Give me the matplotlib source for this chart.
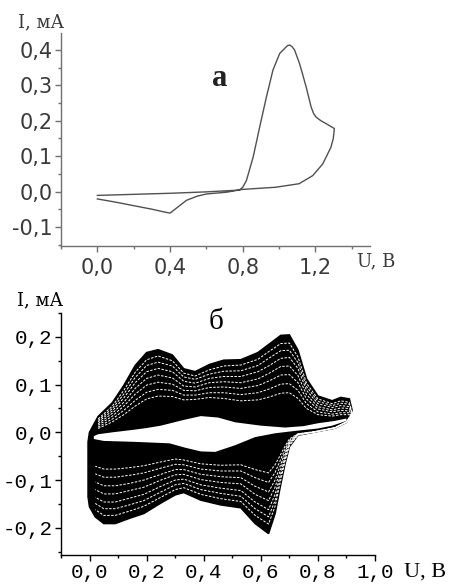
import matplotlib.pyplot as plt
from matplotlib.ticker import MultipleLocator

# panel a: single CV cycle
u_a = [0.0, 0.2, 0.4, 0.6, 0.78, 0.80, 0.82, 0.857, 0.893, 0.93, 0.966, 1.003, 1.03, 1.045, 1.058,
       1.07, 1.085, 1.112, 1.13, 1.149, 1.176, 1.19, 1.204, 1.23, 1.258, 1.304,
       1.298, 1.285, 1.24, 1.185, 1.11, 0.98, 0.8, 0.71, 0.6, 0.55, 0.49, 0.44, 0.4, 0.37, 0.3,
       0.2, 0.1, 0.0]
i_a = [-0.011, -0.008, -0.005, -0.001, 0.004, 0.012, 0.031, 0.097, 0.182, 0.267, 0.343, 0.39, 0.404,
       0.412, 0.414, 0.41, 0.4, 0.362, 0.33, 0.295, 0.239, 0.22, 0.21, 0.2, 0.192, 0.178,
       0.15, 0.125, 0.078, 0.045, 0.022, 0.012, 0.006, -0.002, -0.007, -0.013, -0.025, -0.045,
       -0.061, -0.058, -0.05, -0.04, -0.03, -0.021]

# panel б: multi-cycle CV, potentials of the anodic and cathodic branches
u_up = [-0.005, 0.0, 0.03, 0.08, 0.12, 0.16, 0.2, 0.24, 0.29, 0.33, 0.37, 0.42, 0.47, 0.53,
        0.59, 0.63, 0.67, 0.70, 0.73, 0.76, 0.80, 0.85, 0.88, 0.91]
u_down = [0.92, 0.90, 0.86, 0.79, 0.73, 0.70, 0.685, 0.668, 0.65, 0.627, 0.58, 0.53, 0.46,
          0.39, 0.33, 0.30, 0.25, 0.19, 0.14, 0.09, 0.05, 0.02, 0.0, -0.005, -0.005]

# outermost cycle
i_outer_up = [-0.02, 0.0, 0.033, 0.062, 0.098, 0.14, 0.167, 0.173, 0.162, 0.133, 0.127, 0.142,
              0.151, 0.152, 0.167, 0.185, 0.203, 0.204, 0.172, 0.112, 0.076, 0.066, 0.073, 0.07]
i_outer_down = [0.045, 0.021, 0.009, 0.001, -0.006, -0.03, -0.065, -0.114, -0.17, -0.212, -0.191,
                -0.158, -0.152, -0.142, -0.126, -0.131, -0.148, -0.17, -0.18, -0.191, -0.191,
                -0.177, -0.156, -0.135, -0.02]

# intermediate cycles (seen as white streaks inside the black band)
i_mid_up = [
    [-0.018, -0.002, 0.028, 0.055, 0.088, 0.126, 0.152, 0.16, 0.15, 0.124, 0.118, 0.131,
     0.139, 0.141, 0.153, 0.17, 0.186, 0.187, 0.158, 0.103, 0.07, 0.06, 0.066, 0.063],
    [-0.017, -0.002, 0.025, 0.05, 0.08, 0.115, 0.14, 0.147, 0.139, 0.116, 0.111, 0.122,
     0.128, 0.129, 0.14, 0.156, 0.171, 0.172, 0.146, 0.096, 0.065, 0.056, 0.061, 0.059],
    [-0.016, -0.003, 0.022, 0.045, 0.072, 0.104, 0.127, 0.134, 0.127, 0.107, 0.103, 0.113,
     0.117, 0.117, 0.127, 0.14, 0.155, 0.157, 0.134, 0.088, 0.06, 0.052, 0.056, 0.054],
    [-0.015, -0.003, 0.018, 0.04, 0.063, 0.092, 0.113, 0.12, 0.114, 0.097, 0.095, 0.104,
     0.106, 0.104, 0.112, 0.124, 0.138, 0.139, 0.119, 0.079, 0.054, 0.047, 0.051, 0.05],
    [-0.015, -0.004, 0.015, 0.034, 0.055, 0.08, 0.099, 0.105, 0.101, 0.088, 0.087, 0.094,
     0.095, 0.092, 0.098, 0.108, 0.12, 0.121, 0.104, 0.07, 0.049, 0.043, 0.046, 0.045],
    [-0.014, -0.005, 0.011, 0.028, 0.046, 0.067, 0.084, 0.09, 0.088, 0.078, 0.078, 0.083,
     0.083, 0.079, 0.083, 0.091, 0.101, 0.102, 0.088, 0.06, 0.043, 0.038, 0.041, 0.041],
    [-0.014, -0.005, 0.008, 0.022, 0.037, 0.055, 0.07, 0.076, 0.075, 0.068, 0.069, 0.073,
     0.071, 0.066, 0.068, 0.074, 0.082, 0.083, 0.071, 0.05, 0.037, 0.034, 0.037, 0.037],
]
i_mid_down = [
    [0.042, 0.02, 0.009, 0.001, -0.006, -0.028, -0.06, -0.105, -0.155, -0.192, -0.174, -0.145,
     -0.139, -0.13, -0.116, -0.12, -0.136, -0.155, -0.165, -0.174, -0.174, -0.162, -0.143, -0.124, -0.02],
    [0.041, 0.021, 0.009, 0.001, -0.005, -0.026, -0.056, -0.098, -0.143, -0.177, -0.16, -0.134,
     -0.128, -0.12, -0.107, -0.11, -0.125, -0.143, -0.152, -0.16, -0.16, -0.149, -0.132, -0.114, -0.02],
    [0.04, 0.022, 0.009, 0.001, -0.005, -0.024, -0.052, -0.09, -0.13, -0.162, -0.146, -0.122,
     -0.117, -0.11, -0.098, -0.1, -0.113, -0.13, -0.138, -0.146, -0.146, -0.136, -0.12, -0.104, -0.019],
    [0.038, 0.022, 0.009, 0.001, -0.004, -0.022, -0.047, -0.08, -0.115, -0.143, -0.13, -0.108,
     -0.105, -0.099, -0.088, -0.089, -0.1, -0.115, -0.122, -0.129, -0.129, -0.12, -0.107, -0.092, -0.018],
    [0.037, 0.022, 0.01, 0.001, -0.004, -0.02, -0.041, -0.07, -0.1, -0.125, -0.113, -0.095,
     -0.093, -0.088, -0.078, -0.078, -0.088, -0.1, -0.107, -0.112, -0.112, -0.104, -0.093, -0.08, -0.018],
    [0.035, 0.022, 0.01, 0.001, -0.003, -0.017, -0.035, -0.059, -0.084, -0.105, -0.095, -0.081,
     -0.081, -0.077, -0.068, -0.067, -0.075, -0.085, -0.09, -0.094, -0.094, -0.087, -0.078, -0.067, -0.017],
    [0.034, 0.022, 0.01, 0.002, -0.003, -0.014, -0.029, -0.048, -0.068, -0.085, -0.078, -0.068,
     -0.069, -0.066, -0.058, -0.056, -0.062, -0.07, -0.074, -0.077, -0.077, -0.071, -0.063, -0.055, -0.017],
]

# innermost cycle (the white gap)
u_in_up = [0.015, 0.03, 0.08, 0.15, 0.2, 0.25, 0.29, 0.33, 0.39, 0.45, 0.51, 0.6, 0.685, 0.75, 0.8, 0.86, 0.9]
i_in_up = [-0.008, -0.004, 0.0, 0.005, 0.009, 0.014, 0.02, 0.026, 0.034, 0.031, 0.021, 0.014, 0.01,
           0.013, 0.019, 0.024, 0.029]
u_in_down = [0.9, 0.85, 0.8, 0.72, 0.65, 0.58, 0.51, 0.44, 0.39, 0.334, 0.28, 0.16, 0.05, 0.015]
i_in_down = [0.024, 0.014, 0.008, 0.003, -0.002, -0.01, -0.027, -0.041, -0.04, -0.032, -0.023, -0.02,
             -0.018, -0.014]

W, H = 451, 587
fig = plt.figure(figsize=(W / 100, H / 100), dpi=100)


def px(x, y):
    return x / W, 1 - y / H


gray = '#3a3a3a'

# ---- panel a ----
ax1 = fig.add_axes([61 / W, 1 - 246 / H, (370 - 61) / W, (246 - 33) / H])
ax1.plot(u_a, i_a, color='#505050', lw=1.0)
ax1.set_xlim(-0.2, 1.5)
ax1.set_ylim(-0.154, 0.448)
for s in ['top', 'right']:
    ax1.spines[s].set_visible(False)
for s in ['left', 'bottom']:
    ax1.spines[s].set_color('#707070')
    ax1.spines[s].set_linewidth(1.0)
ax1.xaxis.set_minor_locator(MultipleLocator(0.2))
ax1.yaxis.set_minor_locator(MultipleLocator(0.05))
ax1.set_xticks([0.0, 0.4, 0.8, 1.2])
ax1.set_xticklabels(['0,0', '0,4', '0,8', '1,2'])
ax1.set_yticks([-0.1, 0.0, 0.1, 0.2, 0.3, 0.4])
ax1.set_yticklabels(['-0,1', '0,0', '0,1', '0,2', '0,3', '0,4'])
ax1.tick_params(which='both', colors='#707070', labelcolor=gray, labelsize=15, width=1)
ax1.tick_params(which='major', length=4)
ax1.tick_params(which='minor', length=2.5)
ax1.tick_params(axis='x', pad=5)
ax1.tick_params(axis='y', pad=2)
for t in ax1.get_xticklabels() + ax1.get_yticklabels():
    t.set_family('DejaVu Sans')

fig.text(*px(41, 22), 'I, мА', family='DejaVu Serif', fontsize=13, color=gray, ha='center', va='center')
fig.text(*px(376, 261), 'U, B', family='DejaVu Serif', fontsize=13, color=gray, ha='center', va='center')
fig.text(*px(220, 79), 'a', family='Liberation Serif', fontsize=22, fontweight='bold', color='#222222',
         ha='center', va='center')

# ---- panel б ----
ax2 = fig.add_axes([61 / W, 1 - 555 / H, (375 - 61) / W, (555 - 313) / H])
ax2.fill(u_up + u_down, i_outer_up + i_outer_down, color='black', lw=1.2, ec='black')
for iu, idn in zip(i_mid_up, i_mid_down):
    ax2.plot(u_up[2:] + u_down[:-3], iu[2:] + idn[:-3], color='white', lw=0.7, ls=(0, (2.5, 1.5)))
ax2.fill(u_in_up + u_in_down, i_in_up + i_in_down, color='white', lw=0)
ax2.set_xlim(-0.1, 1.0)
ax2.set_ylim(-0.257, 0.25)
for s in ['top', 'right']:
    ax2.spines[s].set_visible(False)
for s in ['left', 'bottom']:
    ax2.spines[s].set_linewidth(1.0)
ax2.xaxis.set_minor_locator(MultipleLocator(0.1))
ax2.yaxis.set_minor_locator(MultipleLocator(0.05))
ax2.set_xticks([0.0, 0.2, 0.4, 0.6, 0.8, 1.0])
ax2.set_xticklabels(['0,0', '0,2', '0,4', '0,6', '0,8', '1,0'])
ax2.set_yticks([-0.2, -0.1, 0.0, 0.1, 0.2])
ax2.set_yticklabels(['-0,2', '-0,1', '0,0', '0,1', '0,2'])
ax2.tick_params(which='both', labelsize=15, width=1)
ax2.tick_params(which='major', length=4)
ax2.tick_params(which='minor', length=2.5)
ax2.tick_params(axis='x', pad=1.5)
ax2.tick_params(axis='y', pad=2)
for t in ax2.get_xticklabels() + ax2.get_yticklabels():
    t.set_family('Liberation Mono')

fig.text(*px(40, 300), 'I, мА', family='DejaVu Serif', fontsize=13, ha='center', va='center')
fig.text(*px(216, 322), 'б', family='Liberation Serif', fontsize=21, ha='center', va='center')
fig.text(*px(425, 572), 'U, B', family='Liberation Serif', fontsize=16, ha='center', va='center')

fig.savefig('out.png', dpi=100)
